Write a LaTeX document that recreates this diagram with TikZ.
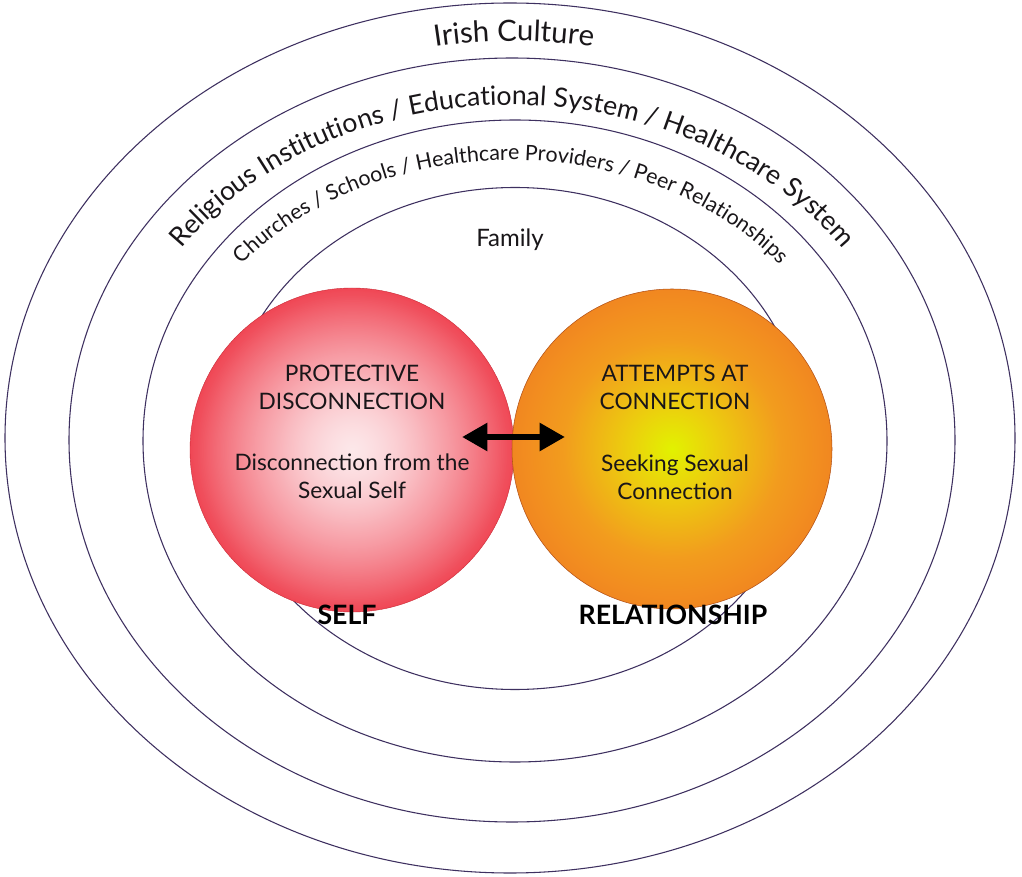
\documentclass[tikz,border=0pt]{standalone}
\usepackage{fontspec}
\setmainfont{Lato}
\usetikzlibrary{arrows.meta, decorations.text, fadings}

% colours
\definecolor{ringline}{RGB}{62,48,96}
\definecolor{txtdark}{RGB}{25,22,25}
\definecolor{redA}{RGB}{248,176,184}
\definecolor{redB}{RGB}{244,112,124}
\definecolor{redC}{RGB}{240,72,86}
\definecolor{redD}{RGB}{236,50,64}
\definecolor{redband}{RGB}{246,150,160}
\definecolor{redglow}{RGB}{253,232,234}
\definecolor{orA}{RGB}{226,242,0}
\definecolor{orB}{RGB}{236,206,14}
\definecolor{orC}{RGB}{242,156,30}
\definecolor{orD}{RGB}{241,122,34}
\definecolor{orE}{RGB}{237,106,30}

% ball shadings
\pgfdeclareradialshading{redball}{\pgfpoint{0bp}{0bp}}{%
  color(0bp)=(redA); color(12bp)=(redB); color(24bp)=(redC); color(50bp)=(redD)}
\pgfdeclareradialshading{orangeball}{\pgfpoint{0bp}{0bp}}{%
  color(0bp)=(orA); color(7bp)=(orB); color(17bp)=(orC); color(30bp)=(orD); color(50bp)=(orE)}

% light cross and glow inside the red ball
\tikzfading[name=vband, left color=transparent!100, middle color=transparent!0, right color=transparent!100]
\tikzfading[name=hband, top color=transparent!100, middle color=transparent!0, bottom color=transparent!100]
\tikzfading[name=glow, inner color=transparent!0, outer color=transparent!100]

\begin{document}
\begin{tikzpicture}[x=0.75pt, y=0.75pt,
  ring/.style={draw=ringline, line width=0.8pt},
  ball/.style={circle, inner sep=0pt},
  intext/.style={align=center, text=txtdark, font=\fontsize{17}{21}\selectfont},
  tag/.style={text=black, font=\fontsize{20}{24}\selectfont\bfseries},
  dblarrow/.style={line width=5pt, {Triangle[length=19pt,width=20pt]}-{Triangle[length=19pt,width=20pt]}}
]
\fill[white] (0,0) rectangle (1022,876);
\useasboundingbox (0,0) rectangle (1022,876);

% nested rings
\draw[ring] (510,438) ellipse [x radius=505, y radius=435];
\draw[ring] (512,436) ellipse [x radius=443, y radius=382];
\draw[ring] (515,435) ellipse [x radius=372, y radius=321];
\draw[ring] (515,437.5) ellipse [x radius=290, y radius=251];

% ring labels
\path[decorate, decoration={text along path, text align=center,
  text={|\fontsize{22}{26}\selectfont\color{txtdark}|Irish Culture}}]
  (514,441) ++(170:455 and 394) arc[start angle=170, end angle=10, x radius=455, y radius=394];
\path[decorate, decoration={text along path, text align=center,
  text={|\fontsize{20}{24}\selectfont\color{txtdark}|Religious Institutions / Educational System / Healthcare System}}]
  (512,436) ++(178:403 and 335) arc[start angle=178, end angle=2, x radius=403, y radius=335];
\path[decorate, decoration={text along path, text align=center,
  text={|\fontsize{16}{20}\selectfont\color{txtdark}|Churches / Schools / Healthcare Providers / Peer Relationships}}]
  (511,436) ++(178:345 and 280) arc[start angle=178, end angle=2, x radius=345, y radius=280];
\node[text=txtdark, font=\fontsize{18}{22}\selectfont] (family) at (510,636) {Family};

% self ball
\node[ball, minimum size=243pt, shading=redball, draw=redD!85!black, line width=0.3pt] (self) at (352,426) {};
\fill[redband, fill opacity=0.85, path fading=vband] (self.center) circle[radius=162];
\fill[redband, fill opacity=0.85, path fading=hband] (self.center) circle[radius=162];
\fill[redglow, path fading=glow] (self.center) circle[radius=162];

% relationship ball
\node[ball, minimum size=240pt, shading=orangeball, draw=orE!75!black, line width=0.4pt] (rel) at (672,427) {};

% ball texts
\node[intext] (protect) at (352,489) {PROTECTIVE\\DISCONNECTION};
\node[intext] (disconn) at (352,400) {Disconnection from the\\Sexual Self};
\node[intext] (attempt) at (675,489) {ATTEMPTS AT\\CONNECTION};
\node[intext] (seeking) at (675,399) {Seeking Sexual\\Connection};

% captions
\node[tag] (selflbl) at (347,261) {SELF};
\node[tag] (rellbl) at (673,261) {RELATIONSHIP};

% two-way arrow between the balls
\coordinate (al) at (462,439);
\coordinate (ar) at (565,439);
\draw[dblarrow] (al) -- (ar);
\end{tikzpicture}
\end{document}
